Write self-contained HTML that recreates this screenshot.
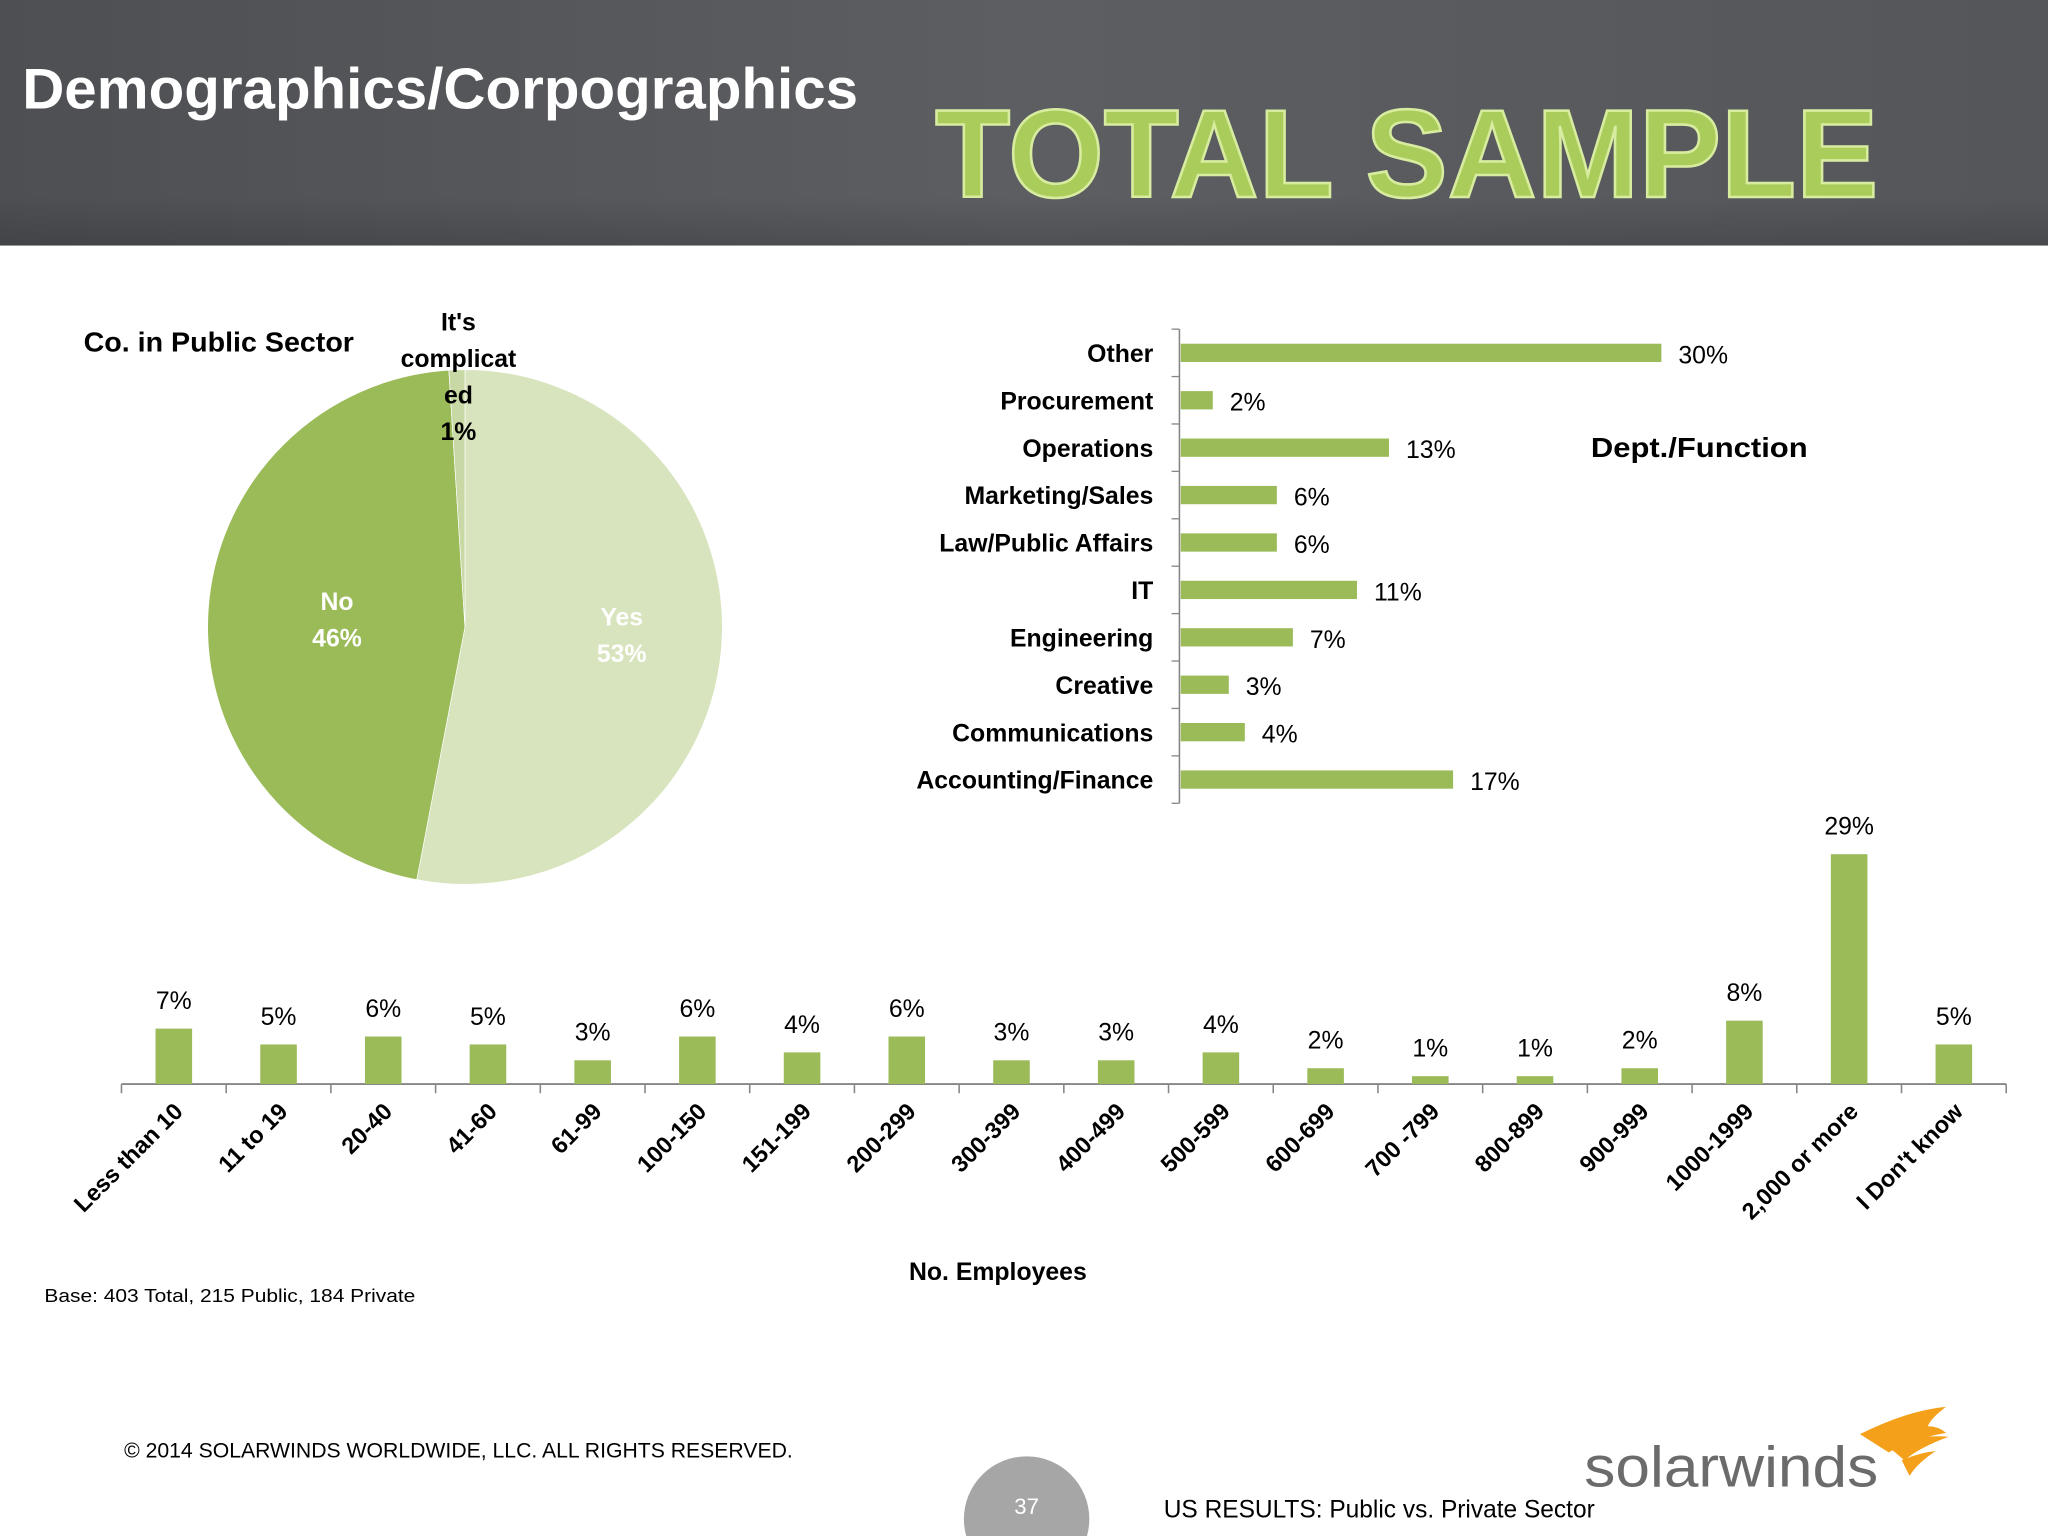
<!DOCTYPE html>
<html><head><meta charset="utf-8"><style>
html,body{margin:0;padding:0;background:#fff;}
svg{display:block;font-family:"Liberation Sans",sans-serif;}
</style></head><body>
<svg id="s" width="2048" height="1536" viewBox="0 0 1568 1176" xmlns="http://www.w3.org/2000/svg">
<defs>
<linearGradient id="hg" x1="0" y1="0" x2="1" y2="0"><stop offset="0" stop-color="#4d4f53"/><stop offset="0.5" stop-color="#5c5e62"/><stop offset="1" stop-color="#54565a"/></linearGradient>
<linearGradient id="hs" x1="0" y1="0" x2="0" y2="1"><stop offset="0" stop-color="#000" stop-opacity="0"/><stop offset="1" stop-color="#000" stop-opacity="0.15"/></linearGradient>
</defs>
<rect x="0" y="0" width="1568" height="188" fill="url(#hg)"/>
<rect x="0" y="150" width="1568" height="38" fill="url(#hs)"/>
<text x="17" y="83" font-size="44" font-weight="bold" fill="#fff" textLength="640" lengthAdjust="spacingAndGlyphs">Demographics/Corpographics</text>
<text x="716" y="151" font-size="96" font-weight="bold" fill="#a9cc5a" stroke="#d8eca0" stroke-width="2" textLength="722" lengthAdjust="spacingAndGlyphs">TOTAL SAMPLE</text>

<g id="pie"></g>
<text x="64" y="269" font-size="21" font-weight="bold" fill="#000" textLength="207" lengthAdjust="spacingAndGlyphs">Co. in Public Sector</text>

<g id="hbar"></g>
<text x="1218" y="350" font-size="21" font-weight="bold" fill="#000" textLength="166" lengthAdjust="spacingAndGlyphs">Dept./Function</text>

<g id="col"></g>
<text x="764" y="980" font-size="19" font-weight="bold" fill="#000" text-anchor="middle">No. Employees</text>
<text x="34" y="997" font-size="14" fill="#000" textLength="284" lengthAdjust="spacingAndGlyphs">Base:  403  Total, 215 Public, 184 Private</text>

<text x="95" y="1116" font-size="16" fill="#000" textLength="512" lengthAdjust="spacingAndGlyphs">© 2014 SOLARWINDS WORLDWIDE, LLC.  ALL RIGHTS RESERVED.</text>
<circle cx="786" cy="1163" r="48" fill="#a6a6a6"/>
<text x="786" y="1159" font-size="17" fill="#fff" text-anchor="middle">37</text>
<text x="891" y="1162" font-size="19" fill="#000" textLength="330" lengthAdjust="spacingAndGlyphs">US RESULTS:  Public vs. Private Sector</text>
<text x="1213" y="1138" font-size="44" fill="#6b6b6b" textLength="225" lengthAdjust="spacingAndGlyphs">solarwinds</text>
<g fill="#f5a01a">
<path d="M1424 1098 Q1460 1080 1490 1077 Q1478 1086 1476 1092 Q1484 1092 1490 1097 Q1466 1101 1446 1112 Z"/>
<path d="M1444 1106 Q1470 1098 1492 1100 Q1470 1108 1458 1118 Z"/>
<path d="M1456 1118 Q1470 1112 1482 1111 Q1468 1120 1462 1130 Z"/>
</g>
</svg>
<script>
var NS="http://www.w3.org/2000/svg";
function mk(tag,attrs,parent,txt){var e=document.createElementNS(NS,tag);for(var k in attrs)e.setAttribute(k,attrs[k]);if(txt!==undefined)e.textContent=txt;parent.appendChild(e);return e;}
var GREEN="#9bbb59";

// ---- Pie data ----
var pieLabels=["Yes","No","It's complicated"];
var pieValues=[53,46,1];
var pieColors=["#d7e4bd","#9bbb59","#c9d9a6"];
// ---- Horizontal bar data (top to bottom) ----
var deptCats=["Other","Procurement","Operations","Marketing/Sales","Law/Public Affairs","IT","Engineering","Creative","Communications","Accounting/Finance"];
var deptVals=[30,2,13,6,6,11,7,3,4,17];
// ---- Column chart data ----
var empCats=["Less than 10","11 to 19","20-40","41-60","61-99","100-150","151-199","200-299","300-399","400-499","500-599","600-699","700 -799","800-899","900-999","1000-1999","2,000 or more","I Don't know"];
var empVals=[7,5,6,5,3,6,4,6,3,3,4,2,1,1,2,8,29,5];

(function(){
var g=document.getElementById('pie');var cx=356,cy=480,r=197;
var tot=pieValues.reduce(function(a,b){return a+b;},0);var a0=0;
function pt(a){var t=a*Math.PI/180;return [cx+r*Math.sin(t),cy-r*Math.cos(t)];}
for(var i=0;i<pieValues.length;i++){
var a1=a0+pieValues[i]/tot*360;var p0=pt(a0),p1=pt(a1);
var d="M"+cx+" "+cy+" L"+p0[0]+" "+p0[1]+" A"+r+" "+r+" 0 "+((a1-a0)>180?1:0)+" 1 "+p1[0]+" "+p1[1]+" Z";
var s=mk('path',{d:d,fill:pieColors[i],stroke:"#fff","stroke-width":0.5},g);


a0=a1;}
var l1=mk('text',{x:258,y:467,"font-size":19,"font-weight":"bold",fill:"#fff","text-anchor":"middle"},g,pieLabels[1]);


mk('text',{x:258,y:495,"font-size":19,"font-weight":"bold",fill:"#fff","text-anchor":"middle"},g,pieValues[1]+"%");
var l0=mk('text',{x:476,y:479,"font-size":19,"font-weight":"bold",fill:"#fff","text-anchor":"middle"},g,pieLabels[0]);


mk('text',{x:476,y:507,"font-size":19,"font-weight":"bold",fill:"#fff","text-anchor":"middle"},g,pieValues[0]+"%");
var lines=["It's","complicat","ed",pieValues[2]+"%"];
for(var j=0;j<lines.length;j++){var t=mk('text',{x:351,y:253+j*28,"font-size":19,"font-weight":"bold",fill:"#000","text-anchor":"middle"},g,lines[j]);

}
})();

(function(){
var g=document.getElementById('hbar');var x0=903,y0=252,y1=615,max=30,w=368;
var band=(y1-y0)/deptCats.length;
function xs(v){return x0+v/max*w;}
mk('line',{x1:x0,y1:y0,x2:x0,y2:y1,stroke:"#868686","stroke-width":1.2},g);
for(var i=0;i<=deptCats.length;i++)mk('line',{x1:x0-6,y1:y0+i*band,x2:x0,y2:y0+i*band,stroke:"#868686","stroke-width":1},g);
for(var i=0;i<deptCats.length;i++){
var yc=y0+(i+0.5)*band;
var b=mk('rect',{x:x0+1,y:yc-7,width:xs(deptVals[i])-x0,height:14,fill:GREEN},g);


var t=mk('text',{x:883,y:yc+7,"font-size":19,"font-weight":"bold",fill:"#000","text-anchor":"end"},g,deptCats[i]);


var v=mk('text',{x:xs(deptVals[i])+14,y:yc+8,"font-size":19,fill:"#000"},g,deptVals[i]+"%");

}
})();

(function(){
var g=document.getElementById('col');var x0=93,x1=1536,yb=830,max=29,h=176;
var band=(x1-x0)/empCats.length;
function ys(v){return yb-v/max*h;}
mk('line',{x1:x0,y1:yb,x2:x1,y2:yb,stroke:"#868686","stroke-width":1.5},g);
for(var i=0;i<=empCats.length;i++)mk('line',{x1:x0+i*band,y1:yb,x2:x0+i*band,y2:yb+7,stroke:"#868686","stroke-width":1.2},g);
for(var i=0;i<empCats.length;i++){
var xc=x0+(i+0.5)*band;
var b=mk('rect',{x:xc-14,y:ys(empVals[i]),width:28,height:yb-ys(empVals[i]),fill:GREEN},g);


var v=mk('text',{x:xc,y:ys(empVals[i])-15,"font-size":19,fill:"#000","text-anchor":"middle"},g,empVals[i]+"%");


var t=mk('text',{x:xc+8,y:852,"font-size":18,"font-weight":"bold",fill:"#000","text-anchor":"end",transform:"rotate(-45 "+(xc+8)+" 852)"},g,empCats[i]);

}
})();
</script>
</body></html>
